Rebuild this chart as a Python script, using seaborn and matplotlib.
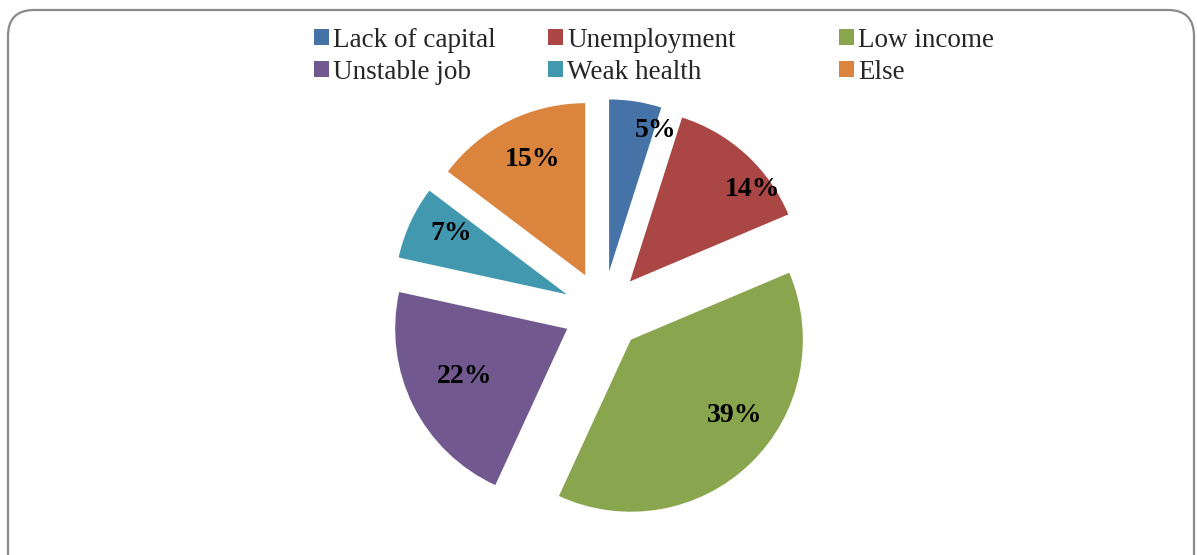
import matplotlib
matplotlib.use("Agg")
import numpy as np
import matplotlib.pyplot as plt
import seaborn as sns
from matplotlib.patches import FancyBboxPatch
from matplotlib.transforms import IdentityTransform

# Reasons, share of respondents (%)
categories = ["Lack of capital", "Unemployment", "Low income",
              "Unstable job", "Weak health", "Else"]
shares = [5, 14, 39, 22, 7, 15]
colors_hex = ["#4572A7", "#AA4643", "#89A54E", "#71588F", "#4198AF", "#DB843D"]

sns.set_theme(style="white")
plt.rcParams["font.family"] = ["Liberation Serif", "DejaVu Serif"]

W, H = 1197, 555
fig = plt.figure(figsize=(W / 100, H / 100), dpi=100)
fig.patch.set_facecolor("white")
ax = fig.add_axes([0, 0, 1, 1])

# pie geometry in pixels (1 data unit = one radius)
R_PX = 172
CX_PX, CY_PX = 603, 311
EXPLODE = 40 / R_PX

palette = sns.color_palette(colors_hex)
wedges, _ = ax.pie(shares, colors=palette, startangle=90, counterclock=False,
                   radius=1, explode=[EXPLODE] * len(shares),
                   wedgeprops=dict(linewidth=0))
ax.set_xlim(-CX_PX / R_PX, (W - CX_PX) / R_PX)
ax.set_ylim(-(H - CY_PX) / R_PX, CY_PX / R_PX)
ax.set_aspect("auto")
ax.axis("off")

# value labels: position along the wedge (fraction clockwise) and distance from its tip
label_frac = [1.03, 0.72, 0.43, 0.52, 0.62, 0.54]
label_dist = [0.865, 0.89, 0.75, 0.66, 0.76, 0.74]
for w, v, f, d in zip(wedges, shares, label_frac, label_dist):
    ang = np.deg2rad(w.theta2 - f * (w.theta2 - w.theta1))
    x0, y0 = w.center
    ax.text(x0 + d * np.cos(ang), y0 + d * np.sin(ang), f"{v}%",
            ha="center", va="center", fontsize=20, fontweight="bold",
            color="black")

# legend: three columns of two entries each, filled row by row
col_left_px = [314, 548, 839]
legend_kw = dict(loc="upper left", bbox_transform=fig.transFigure,
                 frameon=False, fontsize=19.5, borderaxespad=0, borderpad=0,
                 handlelength=0.54, handleheight=0.54, handletextpad=0.17,
                 labelspacing=0.25)
for c, x_px in enumerate(col_left_px):
    idx = [c, c + 3]
    leg = fig.legend([wedges[i] for i in idx], [categories[i] for i in idx],
                     bbox_to_anchor=(x_px / W, 1 - 28 / H), **legend_kw)

# rounded outer frame
frame = FancyBboxPatch((8, -30), 1186, 575,
                       boxstyle="round,pad=0,rounding_size=26",
                       transform=IdentityTransform(), facecolor="none",
                       edgecolor="#8a8a8a", linewidth=1.6)
fig.patches.append(frame)

fig.savefig("out.png", dpi=100)
